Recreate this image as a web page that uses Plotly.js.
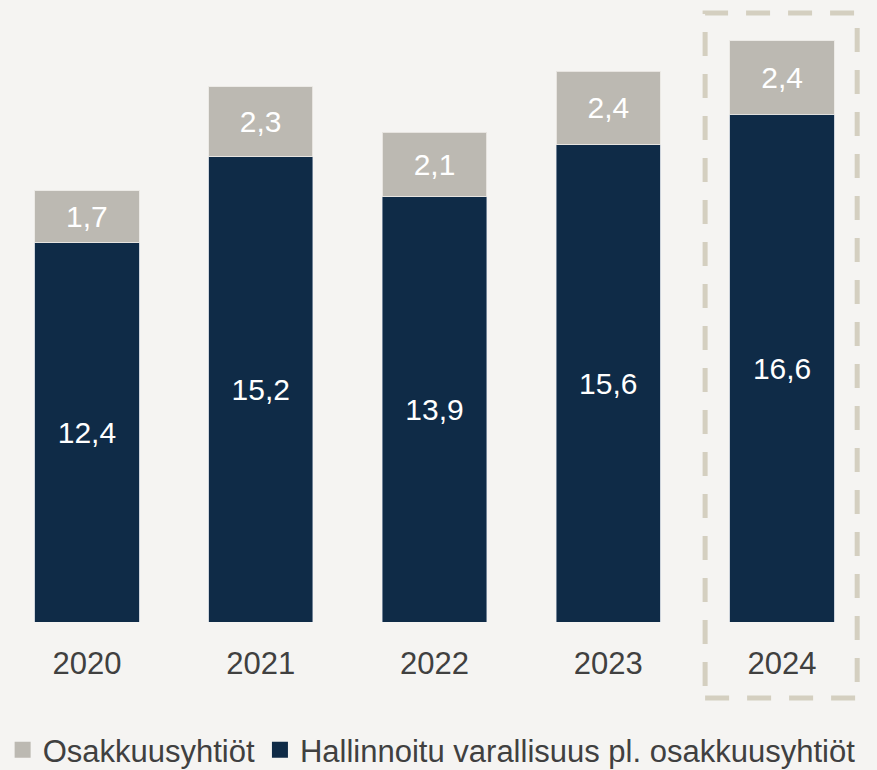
<!DOCTYPE html>
<html>
<head>
<meta charset="utf-8">
<script src="https://cdn.plot.ly/plotly-3.0.1.min.js"></script>
<style>
html,body{margin:0;padding:0;background:#f5f4f2;}
#chart{width:877px;height:770px;}
</style>
</head>
<body>
<div id="chart"></div>
<script>
const years = ['2020', '2021', '2022', '2023', '2024'];
const hallinnoitu = [12.4, 15.2, 13.9, 15.6, 16.6];
const osakkuus = [1.7, 2.3, 2.1, 2.4, 2.4];
const seriesNames = ['Osakkuusyhtiöt', 'Hallinnoitu varallisuus pl. osakkuusyhtiöt'];

const navy = '#0f2b47';
const grey = '#bcb9b2';

const traces = [
  {
    type: 'bar', x: years, y: hallinnoitu, name: seriesNames[1],
    marker: {color: navy, line: {color: 'rgba(180,190,205,0.6)', width: 1}},
    texttemplate: '%{y:.1f}', textposition: 'inside', insidetextanchor: 'middle',
    constraintext: 'none',
    textfont: {color: '#ffffff', size: 30, family: 'Liberation Sans, Arial, sans-serif'},
    showlegend: false, hoverinfo: 'x+y+name'
  },
  {
    type: 'bar', x: years, y: osakkuus, name: seriesNames[0],
    marker: {color: grey, line: {color: 'rgba(235,233,228,0.9)', width: 1}},
    texttemplate: '%{y:.1f}', textposition: 'inside', insidetextanchor: 'middle',
    constraintext: 'none',
    textfont: {color: '#ffffff', size: 30, family: 'Liberation Sans, Arial, sans-serif'},
    showlegend: false, hoverinfo: 'x+y+name'
  },
  {
    type: 'scatter', mode: 'markers', x: [null], y: [null], name: seriesNames[0],
    marker: {symbol: 'square', size: 18, color: grey}, hoverinfo: 'skip'
  },
  {
    type: 'scatter', mode: 'markers', x: [null], y: [null], name: seriesNames[1],
    marker: {symbol: 'square', size: 18, color: navy}, hoverinfo: 'skip'
  }
];

const layout = {
  width: 877, height: 770,
  margin: {l: 0, r: 8, t: 10, b: 148},
  paper_bgcolor: '#f5f4f2', plot_bgcolor: '#f5f4f2',
  separators: ', ',
  barmode: 'stack', bargap: 0.4,
  font: {family: 'Liberation Sans, Arial, sans-serif', color: '#404040', size: 31},
  xaxis: {
    type: 'category', range: [-0.5, 4.5], showgrid: false, zeroline: false,
    showline: false, ticks: '', tickfont: {size: 31, color: '#404040'},
    ticklabelstandoff: 20, automargin: false
  },
  yaxis: {range: [0, 20], visible: false, showgrid: false, zeroline: false, fixedrange: true, automargin: false},
  showlegend: true,
  legend: {
    orientation: 'h', x: 0.003, xanchor: 'left', xref: 'container',
    y: 0.026, yanchor: 'middle', yref: 'container',
    font: {size: 31, color: '#404040'}, traceorder: 'normal',
    bgcolor: 'rgba(0,0,0,0)', itemclick: false, itemdoubleclick: false
  },
  shapes: [{
    type: 'rect', xref: 'x', yref: 'paper',
    x0: 3.557, x1: 4.432, y0: -0.124, y1: 0.995,
    line: {color: '#d4cfc0', width: 5, dash: '24px,18px'},
    fillcolor: 'rgba(0,0,0,0)', layer: 'below'
  }]
};

Plotly.newPlot('chart', traces, layout, {displayModeBar: false, staticPlot: true});
</script>
</body>
</html>
